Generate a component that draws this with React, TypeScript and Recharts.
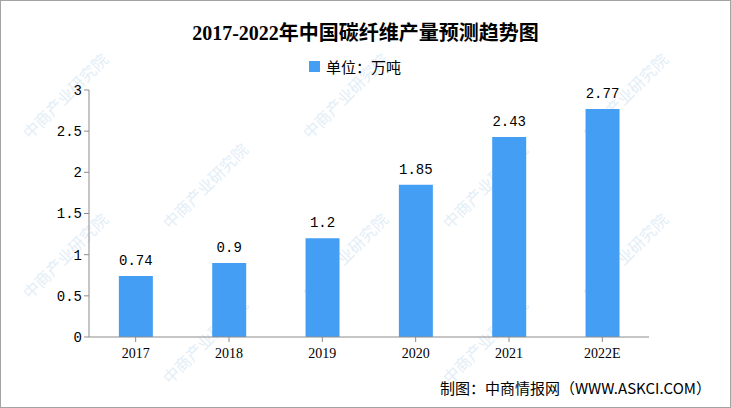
import React from "react";
import { BarChart, Bar, XAxis, YAxis, LabelList } from "recharts";

const years = ["2017", "2018", "2019", "2020", "2021", "2022E"];
const output = [0.74, 0.9, 1.2, 1.85, 2.43, 2.77];
const yTicks = [0, 0.5, 1, 1.5, 2, 2.5, 3];

const data = years.map((year, i) => ({ year, value: output[i] }));

const BLUE = "#449ff4";
const SERIF = "'Liberation Serif', 'DejaVu Serif', 'Noto Sans CJK SC', serif";
const MONO = "'Liberation Mono', 'DejaVu Sans Mono', monospace";
const SANS = "'Noto Sans CJK SC', 'Liberation Sans', sans-serif";

// faint diagonal watermark spots, purely decorative
const marks = [
  [30, 140], [30, 300], [170, 230], [170, 385], [310, 140], [310, 300],
  [450, 230], [450, 385], [590, 140], [590, 300],
];

function Watermarks() {
  return (
    <g>
      {marks.map(([x, y], i) => (
        <text
          key={i}
          x={x}
          y={y}
          transform={`rotate(-45 ${x} ${y})`}
          fontSize={16}
          fontFamily={SANS}
          fill="#e3eef7"
        >
          中商产业研究院
        </text>
      ))}
    </g>
  );
}

export default function App() {
  return (
    <div style={{ position: "absolute", left: 0, top: 0, width: 731, height: 408, background: "#fff" }}>
      <svg width={731} height={408} style={{ position: "absolute", left: 0, top: 0 }}>
        <Watermarks />
      </svg>
      <div style={{ position: "absolute", left: 0, top: 0 }}>
        <BarChart
          width={731}
          height={408}
          data={data}
          margin={{ top: 90, right: 82, bottom: 0, left: 0 }}
          barCategoryGap="32%"
        >
          <XAxis
            dataKey="year"
            axisLine={{ stroke: "#8c8c8c" }}
            tickLine={{ stroke: "#8c8c8c" }}
            tickSize={5}
            tick={{ fill: "#000", fontSize: 14, fontFamily: SERIF }}
            height={71}
            interval={0}
            dy={4}
          />
          <YAxis
            domain={[0, 3]}
            ticks={yTicks}
            width={89}
            axisLine={{ stroke: "#8c8c8c" }}
            tickLine={{ stroke: "#8c8c8c" }}
            tickSize={5}
            tick={{ fill: "#000", fontSize: 14, fontFamily: MONO }}
            interval={0}
          />
          <Bar dataKey="value" fill={BLUE} isAnimationActive={false}>
            <LabelList
              dataKey="value"
              position="top"
              offset={11}
              style={{ fill: "#000", fontSize: 14, fontFamily: MONO }}
            />
          </Bar>
        </BarChart>
      </div>
      <div
        style={{
          position: "absolute",
          left: 0,
          top: 17,
          width: 731,
          textAlign: "center",
          fontFamily: SERIF,
          fontWeight: "bold",
          fontSize: 20,
          color: "#000",
        }}
      >
        2017-2022年中国碳纤维产量预测趋势图
      </div>
      <div
        style={{
          position: "absolute",
          left: 309,
          top: 56,
          display: "flex",
          alignItems: "center",
          fontFamily: SANS,
          fontSize: 15,
          color: "#000",
        }}
      >
        <span style={{ display: "inline-block", width: 11, height: 11, background: BLUE, marginRight: 6 }} />
        单位：万吨
      </div>
      <div
        style={{
          position: "absolute",
          right: 20,
          top: 377,
          fontFamily: SANS,
          fontSize: 15,
          color: "#000",
        }}
      >
        制图：中商情报网（WWW.ASKCI.COM）
      </div>
      <div
        style={{
          position: "absolute",
          left: 0,
          top: 0,
          width: 729,
          height: 406,
          border: "1px solid #a3a3a3",
          pointerEvents: "none",
        }}
      />
    </div>
  );
}
